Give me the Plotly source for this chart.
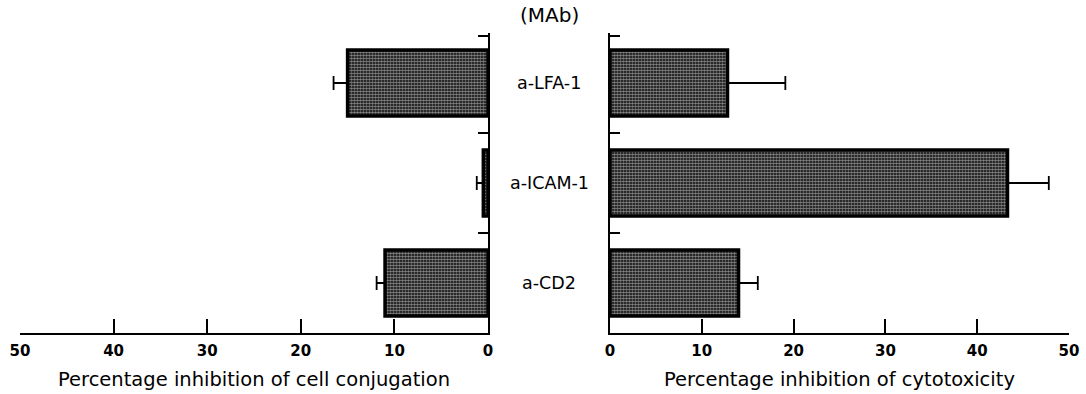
import plotly.graph_objects as go

categories = ["a-CD2", "a-ICAM-1", "a-LFA-1"]
conjugation = [11.0, 0.5, 15.0]
conjugation_err = [0.9, 0.7, 1.5]
cytotoxicity = [14.0, 43.3, 12.8]
cytotoxicity_err = [2.1, 4.5, 6.3]
x_ticks = [0, 10, 20, 30, 40, 50]

FONT = "DejaVu Sans"
W, H = 1086, 394
ytop, ybot = 33, 333
ydom = [(H - ybot) / H, (H - ytop) / H]

ypos = list(range(len(categories)))
boundaries = [i + 0.5 for i in ypos]
boundaries[-1] -= 0.03  # keep the top boundary tick visible

pattern = dict(shape=".", fgcolor="white", bgcolor="black", size=3, solidity=0.62)

fig = go.Figure()
fig.add_trace(go.Bar(
    x=conjugation, y=ypos, orientation="h", xaxis="x", yaxis="y",
    width=0.66, hovertext=categories,
    marker=dict(color="black", line=dict(color="black", width=3.5), pattern=pattern),
    error_x=dict(type="data", array=conjugation_err, arrayminus=[0] * 3,
                 symmetric=False, color="black", thickness=1.8, width=7),
    showlegend=False,
))
fig.add_trace(go.Bar(
    x=cytotoxicity, y=ypos, orientation="h", xaxis="x2", yaxis="y2",
    width=0.66, hovertext=categories,
    marker=dict(color="black", line=dict(color="black", width=3.5), pattern=pattern),
    error_x=dict(type="data", array=cytotoxicity_err, arrayminus=[0] * 3,
                 symmetric=False, color="black", thickness=1.8, width=7),
    showlegend=False,
))

xcommon = dict(
    tickmode="array", tickvals=x_ticks, ticktext=[str(v) for v in x_ticks],
    showline=True, linecolor="black", linewidth=1.5,
    ticks="inside", ticklen=14, tickwidth=1.5, tickcolor="black",
    showgrid=False, zeroline=False, automargin=False,
    tickfont=dict(family=FONT, size=15, color="black", weight="bold"),
    ticklabelstandoff=3,
    title_font=dict(family=FONT, size=19.5, color="black"),
    title_standoff=14,
)
ycommon = dict(
    range=[-0.5, 2.5], domain=ydom,
    showline=True, linecolor="black", linewidth=1.5,
    tickmode="array", tickvals=boundaries,
    ticks="inside", ticklen=10, tickwidth=1.5, tickcolor="black",
    showticklabels=False, automargin=False,
    showgrid=False, zeroline=False,
)

fig.update_layout(
    width=W, height=H,
    margin=dict(l=0, r=0, t=0, b=0, autoexpand=False),
    plot_bgcolor="white", paper_bgcolor="white",
    xaxis=dict(domain=[20 / W, 488 / W], range=[50, 0], anchor="y",
               title_text="Percentage inhibition of cell conjugation", **xcommon),
    xaxis2=dict(domain=[610 / W, 1069 / W], range=[0, 50], anchor="y2",
                title_text="Percentage inhibition of cytotoxicity", **xcommon),
    yaxis=dict(anchor="x", side="right", **ycommon),
    yaxis2=dict(anchor="x2", side="left", **ycommon),
)

for p, c in zip(ypos, categories):
    fig.add_annotation(x=549 / W, xref="paper", y=p, yref="y", text=c,
                       showarrow=False, xanchor="center", yanchor="middle",
                       font=dict(family=FONT, size=17.5, color="black"))
fig.add_annotation(x=549 / W, xref="paper", y=(H - 15) / H, yref="paper",
                   text="(MAb)", showarrow=False, xanchor="center", yanchor="middle",
                   font=dict(family=FONT, size=20, color="black"))

fig.write_html("out.html")
